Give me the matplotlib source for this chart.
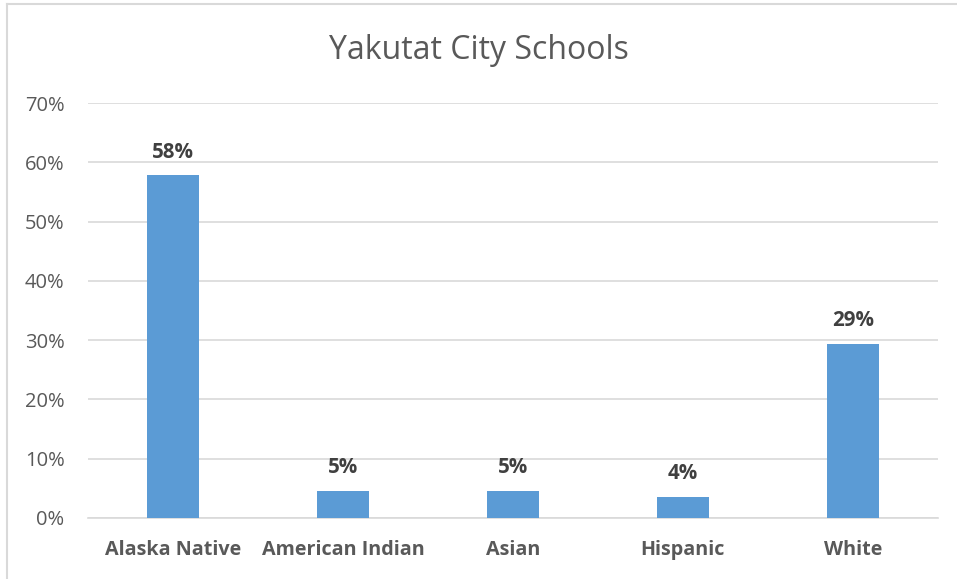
import matplotlib
matplotlib.use("Agg")
import matplotlib.pyplot as plt
from matplotlib.lines import Line2D
from matplotlib.ticker import PercentFormatter, MultipleLocator

categories = ["Alaska Native", "American Indian", "Asian", "Hispanic", "White"]
values = [57.8, 4.6, 4.6, 3.6, 29.4]
labels = ["58%", "5%", "5%", "4%", "29%"]
title = "Yakutat City Schools"

plt.rcParams['font.family'] = ['Open Sans', 'DejaVu Sans']

fig = plt.figure(figsize=(9.57, 5.79), dpi=100)
ax = fig.add_axes([0.092, 0.1054, 0.888, 0.7167])

x = range(len(categories))
bars = ax.bar(x, values, width=0.31, color="#5B9BD5", zorder=3)

ax.set_ylim(0, 70)
ax.set_xlim(-0.5, len(categories) - 0.5)
ax.yaxis.set_major_locator(MultipleLocator(10))
ax.yaxis.set_major_formatter(PercentFormatter(decimals=0))
ax.grid(axis="y", color="#D9D9D9", linewidth=1.2, zorder=0)
for s in ["top", "right", "left"]:
    ax.spines[s].set_visible(False)
ax.spines["bottom"].set_color("#D9D9D9")
ax.spines["bottom"].set_linewidth(1.2)
ax.tick_params(axis="both", length=0, colors="#595959")
ax.tick_params(axis="y", labelsize=14.5, pad=17)
ax.set_xticks(list(x))
ax.set_xticklabels(categories, fontsize=14.2, fontweight="bold", color="#595959")
ax.tick_params(axis="x", pad=16)

for b, lab in zip(bars, labels):
    ax.annotate(lab, (b.get_x() + b.get_width() / 2, b.get_height()),
                xytext=(0, 9), textcoords="offset points", ha="center", va="bottom",
                fontsize=14.8, fontweight="bold", color="#404040")

fig.text(0.5, 0.912, title, ha="center", va="center", fontsize=23, color="#595959")

fig.add_artist(Line2D([0.0073, 0.0073], [0, 0.993], transform=fig.transFigure, color="#D9D9D9", lw=1.5))
fig.add_artist(Line2D([0.0073, 1.0], [0.993, 0.993], transform=fig.transFigure, color="#D9D9D9", lw=1.5))

fig.savefig("out.png", dpi=100, facecolor="white")
